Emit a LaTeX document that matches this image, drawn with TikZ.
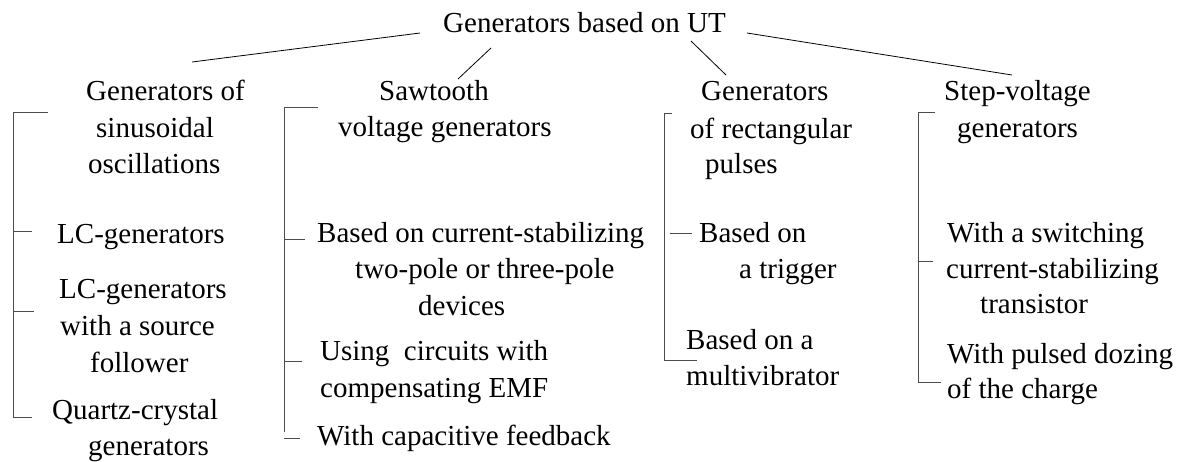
\documentclass[tikz,border=0pt]{standalone}
\usepackage{fontspec}
\setmainfont{Liberation Serif}
\begin{document}
\begin{tikzpicture}[x=1pt,y=-1pt,
  txt/.style={anchor=base west,inner sep=0pt,font=\fontsize{29}{36}\selectfont},
  link/.style={line width=0.8pt,black},
  rail/.style={line width=0.9pt,black!70}]
\useasboundingbox (0,0) rectangle (1178,461);

% root
\node[txt] (root) at (443,32) {Generators based on UT};

% column 1: sinusoidal oscillations
\node[txt] (g1a) at (86,100) {Generators of};
\node[txt] (g1b) at (96,137) {sinusoidal};
\node[txt] (g1c) at (88,173) {oscillations};
\node[txt] (lc1) at (57,243) {LC-generators};
\node[txt] (lc2a) at (59,298) {LC-generators};
\node[txt] (lc2b) at (60,335) {with a source};
\node[txt] (lc2c) at (90,372) {follower};
\node[txt] (qza) at (52,419) {Quartz-crystal};
\node[txt] (qzb) at (88,455) {generators};

% column 2: sawtooth voltage
\node[txt] (g2a) at (379,100) {Sawtooth};
\node[txt] (g2b) at (338,136) {voltage generators};
\node[txt] (csa) at (317,242) {Based on current-stabilizing};
\node[txt] (csb) at (355,278) {two-pole or three-pole};
\node[txt] (csc) at (418,315) {devices};
\node[txt] (cea) at (320,360) {Using\ \ circuits with};
\node[txt] (ceb) at (320,397) {compensating EMF};
\node[txt] (cf) at (317,445) {With capacitive feedback};

% column 3: rectangular pulses
\node[txt] (g3a) at (701,100) {Generators};
\node[txt] (g3b) at (690,138) {of rectangular};
\node[txt] (g3c) at (705,173) {pulses};
\node[txt] (tra) at (699,242) {Based on};
\node[txt] (trb) at (739,278) {a trigger};
\node[txt] (mva) at (686,349) {Based on a};
\node[txt] (mvb) at (686,385) {multivibrator};

% column 4: step voltage
\node[txt] (g4a) at (944,100) {Step-voltage};
\node[txt] (g4b) at (957,137) {generators};
\node[txt] (swa) at (947,242) {With a switching};
\node[txt] (swb) at (946,278) {current-stabilizing};
\node[txt] (swc) at (980,313) {transistor};
\node[txt] (pda) at (947,363) {With pulsed dozing};
\node[txt] (pdb) at (947,398) {of the charge};

% links from the root to the four groups
\coordinate (r1) at (420,33);  \coordinate (h1) at (192,62);
\coordinate (r2) at (491,48);  \coordinate (h2) at (458,79);
\coordinate (r3) at (691,41);  \coordinate (h3) at (726,75);
\coordinate (r4) at (747,33);  \coordinate (h4) at (1012,75);
\draw[link] (r1) -- (h1);
\draw[link] (r2) -- (h2);
\draw[link] (r3) -- (h3);
\draw[link] (r4) -- (h4);

% group brackets
\draw[rail] (48,112) -- (13,112) -- (13,417) -- (32,417);
\draw[rail] (13,231) -- (32,231);
\draw[rail] (13,311) -- (34,311);

\draw[rail] (318,107) -- (284,107) -- (284,432);
\draw[rail] (284,239) -- (305,239);
\draw[rail] (284,361) -- (302,361);
\draw[rail] (284,438) -- (300,438);

\draw[rail] (672,113) -- (664,113) -- (664,360) -- (697,360);
\draw[rail] (670,233) -- (692,233);

\draw[rail] (935,112) -- (918,112) -- (918,382) -- (941,382);
\draw[rail] (918,261) -- (933,261);
\end{tikzpicture}
\end{document}
